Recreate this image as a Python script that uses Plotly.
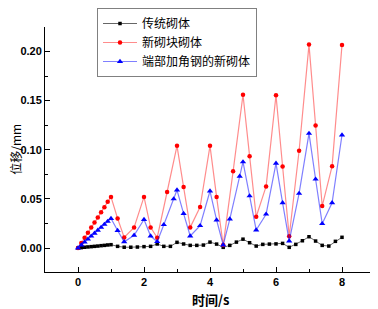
import plotly.graph_objects as go

ramp_x = [0.0, 0.1, 0.2, 0.3, 0.4, 0.5, 0.6, 0.7, 0.8, 0.9, 1.0]

# 传统砌体
black_x = ramp_x + [1.2, 1.4, 1.6, 1.8, 2.0, 2.2, 2.4, 2.6, 2.8, 3.0, 3.2, 3.4, 3.6, 3.8,
                    4.0, 4.2, 4.4, 4.6, 4.8, 5.0, 5.2, 5.4, 5.6, 5.8, 6.0, 6.2, 6.4, 6.6,
                    6.8, 7.0, 7.2, 7.4, 7.6, 7.8, 8.0]
black_y = [0.0, 0.0004, 0.0008, 0.0011, 0.0014, 0.0017, 0.0020, 0.0024, 0.0027, 0.0031, 0.0034,
           0.0017, 0.0008, 0.0008, 0.0010, 0.0014, 0.0017, 0.0041, 0.0017, 0.0017, 0.0058,
           0.0041, 0.0027, 0.0027, 0.0030, 0.0060, 0.0040, 0.0007, 0.0027, 0.0060, 0.0090,
           0.0054, 0.0020, 0.0037, 0.0040, 0.0042, 0.0047, 0.0007, 0.0037, 0.0074, 0.0115,
           0.0071, 0.0027, 0.0020, 0.0068, 0.0109]

# 新砌块砌体
red_x = ramp_x + [1.2, 1.4, 1.7, 2.0, 2.2, 2.4, 2.7, 3.0, 3.2, 3.4, 3.7, 4.0, 4.2, 4.4, 4.7,
                  5.0, 5.2, 5.4, 5.7, 6.0, 6.2, 6.4, 6.7, 7.0, 7.2, 7.4, 7.7, 8.0]
red_y = [0.0, 0.005, 0.0105, 0.0155, 0.021, 0.026, 0.031, 0.0365, 0.0415, 0.047, 0.052,
         0.030, 0.0107, 0.021, 0.052, 0.021, 0.0105, 0.057, 0.104, 0.062, 0.021, 0.0417,
         0.104, 0.052, 0.003, 0.078, 0.156, 0.0935, 0.0318, 0.0627, 0.1555, 0.083, 0.012,
         0.099, 0.207, 0.1247, 0.0427, 0.0833, 0.2066]

# 端部加角钢的新砌体
blue_x = ramp_x + [1.2, 1.4, 1.7, 2.0, 2.2, 2.4, 2.6, 2.9, 3.0, 3.2, 3.4, 3.7, 4.0, 4.2, 4.4,
                   4.6, 4.9, 5.0, 5.2, 5.4, 5.7, 6.0, 6.2, 6.4, 6.7, 7.0, 7.2, 7.4, 7.7, 8.0]
blue_y = [0.0, 0.003, 0.006, 0.009, 0.012, 0.015, 0.018, 0.021, 0.024, 0.027, 0.030,
          0.0178, 0.0063, 0.013, 0.029, 0.0122, 0.0064, 0.0237, 0.050, 0.059, 0.035, 0.0122,
          0.0227, 0.058, 0.0285, 0.003, 0.0295, 0.073, 0.0876, 0.053, 0.0183, 0.0344,
          0.0862, 0.046, 0.0071, 0.0556, 0.1166, 0.070, 0.0248, 0.046, 0.115]

names = ["传统砌体", "新砌块砌体", "端部加角钢的新砌体"]
x_ticks = [0, 2, 4, 6, 8]
y_ticks = [0.00, 0.05, 0.10, 0.15, 0.20]
x_title = "时间/s"
y_title = "位移/mm"

fig = go.Figure()
fig.add_trace(go.Scatter(x=black_x, y=black_y, name=names[0], mode="lines+markers",
                         line=dict(color="rgba(0,0,0,0.6)", width=1),
                         marker=dict(symbol="square", size=3.5, color="black")))
fig.add_trace(go.Scatter(x=red_x, y=red_y, name=names[1], mode="lines+markers",
                         line=dict(color="rgba(255,0,0,0.45)", width=1.2),
                         marker=dict(symbol="circle", size=4.5, color="red")))
fig.add_trace(go.Scatter(x=blue_x, y=blue_y, name=names[2], mode="lines+markers",
                         line=dict(color="rgba(0,0,255,0.5)", width=1.2),
                         marker=dict(symbol="triangle-up", size=5.5, color="blue")))

# page body has an 8px default margin; figure is sized/placed to compensate
tick_font = dict(family="Liberation Sans", size=11, color="black", weight="bold")
fig.update_layout(
    width=370, height=301,
    margin=dict(l=37, r=3, t=19, b=37, autoexpand=False),
    paper_bgcolor="white", plot_bgcolor="white",
    font=dict(family="Noto Sans CJK SC", color="black"),
    showlegend=True,
    legend=dict(x=0.1576, y=1.0775, xanchor="left", yanchor="top",
                bordercolor="#808080", borderwidth=1, bgcolor="white",
                font=dict(family="Noto Sans CJK SC", size=12, color="black"),
                tracegroupgap=0, itemwidth=34),
    xaxis=dict(range=[-1, 9], tickvals=x_ticks, ticktext=[str(v) for v in x_ticks],
               showline=True, linecolor="black", linewidth=1, mirror=False, automargin=False,
               ticks="inside", ticklen=5, tickcolor="black", showgrid=False, zeroline=False,
               tickfont=tick_font,
               minor=dict(dtick=1, tick0=0, ticks="inside", ticklen=3, tickcolor="black")),
    yaxis=dict(range=[-0.0244, 0.2249], tickvals=y_ticks,
               ticktext=["%.2f" % v for v in y_ticks], automargin=False,
               showline=True, linecolor="black", linewidth=1, mirror=False,
               ticks="inside", ticklen=5, tickcolor="black", showgrid=False, zeroline=False,
               tickfont=tick_font,
               minor=dict(dtick=0.025, tick0=0, ticks="inside", ticklen=3, tickcolor="black")),
    annotations=[
        dict(text="<b>" + x_title + "</b>", xref="paper", yref="paper", x=0.5, y=-0.114,
             xanchor="center", yanchor="middle", showarrow=False,
             font=dict(family="Noto Sans CJK SC", size=13, color="black")),
        dict(text=y_title, xref="paper", yref="paper", x=-0.09, y=0.5, textangle=-90,
             xanchor="center", yanchor="middle", showarrow=False,
             font=dict(family="Noto Sans CJK SC", size=12, color="black")),
    ],
)

fig.write_html("out.html")
